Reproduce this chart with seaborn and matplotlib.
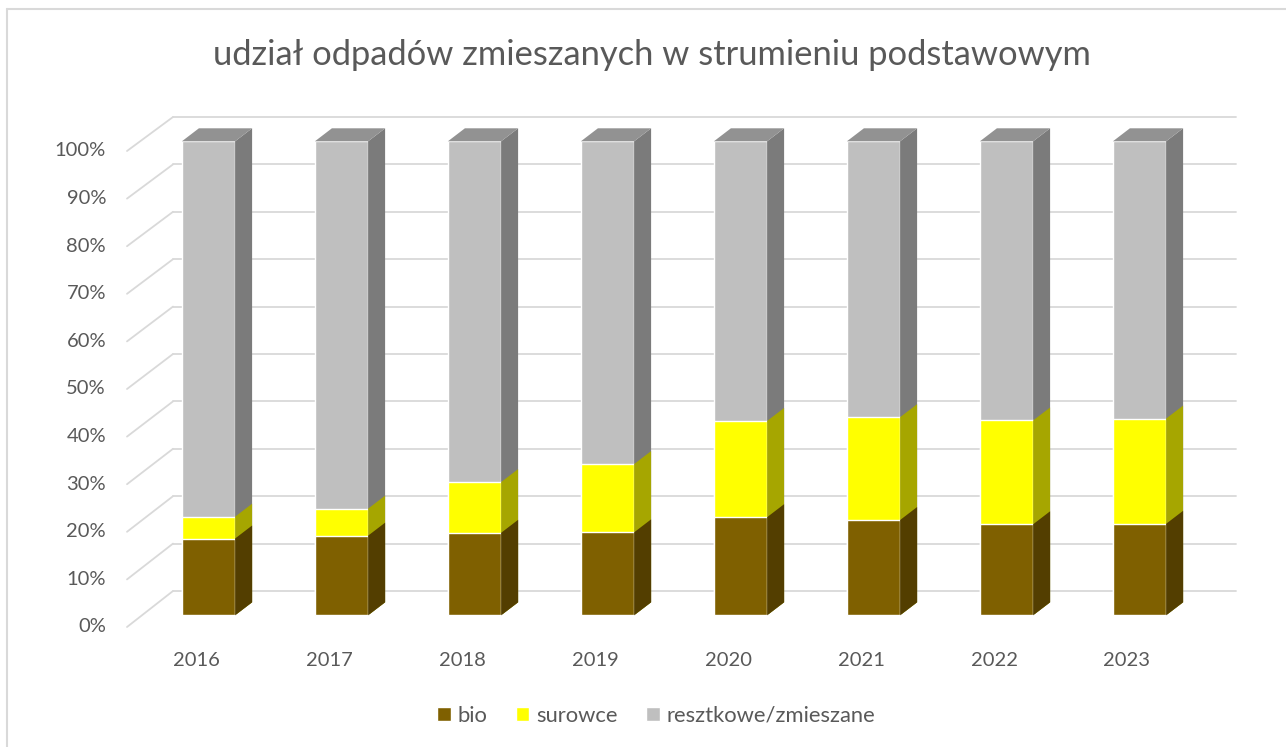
import matplotlib
matplotlib.use("Agg")
import pandas as pd
import matplotlib.pyplot as plt
import seaborn as sns
from matplotlib.patches import Polygon, Patch
from matplotlib.lines import Line2D

# data (percent shares)
years = ["2016", "2017", "2018", "2019", "2020", "2021", "2022", "2023"]
bio = [16.2, 16.8, 17.4, 17.5, 20.7, 20.1, 19.2, 19.3]
surowce = [4.6, 5.7, 10.7, 14.4, 20.3, 21.7, 21.9, 22.2]
resztkowe = [79.2, 77.5, 71.9, 68.1, 59.0, 58.2, 58.9, 58.5]
y_ticks = [0, 10, 20, 30, 40, 50, 60, 70, 80, 90, 100]
title = "udział odpadów zmieszanych w strumieniu podstawowym"

W, H = 1286, 747
TXT = "#595959"
GRID = "#d9d9d9"

sns.set_theme(style="white")
plt.rcParams["font.family"] = ["Lato", "DejaVu Sans"]

df = pd.DataFrame({"rok": years, "bio": bio, "surowce": surowce, "resztkowe": resztkowe})
df["c1"] = df["bio"]
df["c2"] = df["bio"] + df["surowce"]
df["c3"] = df["c2"] + df["resztkowe"]

fig = plt.figure(figsize=(W / 100, H / 100), dpi=100)
ax = fig.add_axes([0, 0, 1, 1])

# pixel -> data helpers for the fake 3D frame
def px_x(p):
    return (p - 208.5) / 133.0

def px_y(p):
    return (615.3 - p) / 4.74

def front_y(v):
    return px_y(627) + v * (px_y(151) - px_y(627)) / 100

def back_y(v):
    return px_y(591) + v * (px_y(117) - px_y(591)) / 100

# gridlines: side wall diagonals + back wall
for v in y_ticks:
    ax.plot([px_x(127), px_x(173)], [front_y(v), back_y(v)], color=GRID, lw=1.3, zorder=0)
    ax.plot([px_x(173), px_x(1236)], [back_y(v), back_y(v)], color=GRID, lw=1.3, zorder=0)

dx = 17 / 133.0
dy = 13 / 4.74

layers = [
    ("c3", "#BFBFBF", "#7B7B7B", "#929292"),
    ("c2", "#FFFF00", "#A6A600", None),
    ("c1", "#7F6000", "#533E00", None),
]

for col, front, side, top in layers:
    n0 = len(ax.patches)
    sns.barplot(data=df, x="rok", y=col, color=front, width=0.4, saturation=1,
                errorbar=None, ax=ax, zorder=2)
    bars = ax.patches[n0:]
    for b in bars:
        xl = b.get_x()
        xr = xl + b.get_width()
        h = b.get_height()
        ax.add_patch(Polygon([(xr, 0), (xr + dx, dy), (xr + dx, h + dy), (xr, h)],
                             closed=True, facecolor=side, edgecolor="none", zorder=2))
        if top is not None:
            ax.add_patch(Polygon([(xl, h), (xr, h), (xr + dx, h + dy), (xl + dx, h + dy)],
                                 closed=True, facecolor=top, edgecolor="none", zorder=2))

# axis labels as text
for v in y_ticks:
    ax.text(px_x(106), front_y(v), f"{v}%", ha="right", va="center", fontsize=14.5, color=TXT)
for i, yr in enumerate(years):
    ax.text(i + px_x(196), px_y(660), yr, ha="center", va="center", fontsize=14.5, color=TXT)

ax.set_xlim(px_x(0), px_x(W))
ax.set_ylim(px_y(H), px_y(0))
ax.axis("off")

fig.text(652 / W, 1 - 55 / H, title, ha="center", va="center", fontsize=24.8, color=TXT)

handles = [
    Patch(facecolor="#7F6000", label="bio"),
    Patch(facecolor="#FFFF00", label="surowce"),
    Patch(facecolor="#BFBFBF", label="resztkowe/zmieszane"),
]
fig.legend(handles=handles, loc="center", bbox_to_anchor=(656 / W, 1 - 716 / H), ncol=3,
           frameon=False, fontsize=15.8, handlelength=0.62, handleheight=0.62,
           handletextpad=0.3, columnspacing=1.3, labelcolor=TXT)

# chart border (left and top visible)
fig.add_artist(Line2D([7 / W, 7 / W], [0, 1 - 9 / H], transform=fig.transFigure, color=GRID, lw=1.5))
fig.add_artist(Line2D([7 / W, 1], [1 - 9 / H, 1 - 9 / H], transform=fig.transFigure, color=GRID, lw=1.5))

fig.savefig("out.png", dpi=100)
